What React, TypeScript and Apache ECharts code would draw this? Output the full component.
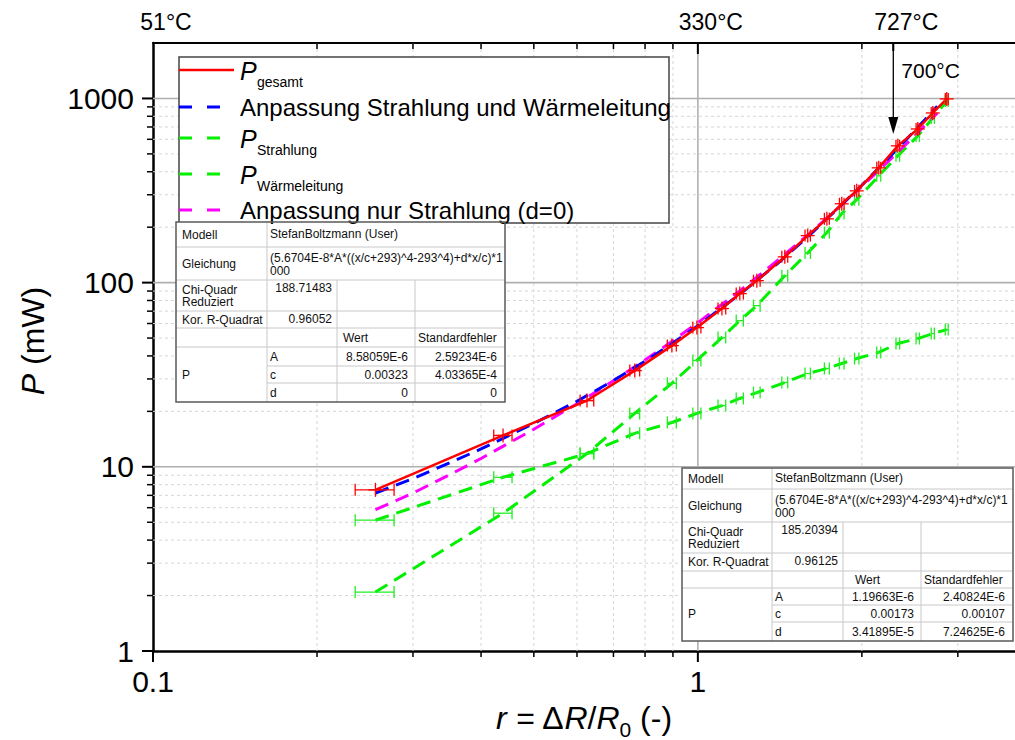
import React, { useEffect, useRef } from 'react';
import * as echarts from 'echarts';

// ---------------- data ----------------
const R_VALUES = [0.256, 0.439, 0.626, 0.766, 0.896, 0.996, 1.107, 1.194, 1.283, 1.444, 1.591, 1.725, 1.837, 1.957, 2.148, 2.328, 2.533, 2.699, 2.863];
const R_ERRORS = [0.021, 0.017, 0.018, 0.016, 0.017, 0.017, 0.018, 0.018, 0.018, 0.018, 0.018, 0.018, 0.018, 0.018, 0.018, 0.018, 0.018, 0.018, 0.018];
const P_GESAMT = [7.5, 14.8, 22.9, 33.3, 45.5, 57.0, 72.3, 87.2, 102.5, 138, 180, 222, 268, 315, 420, 553, 683, 834, 994];
const P_STRAHLUNG = [2.09, 5.6, 11.8, 19.5, 28.4, 37.8, 50.3, 62.2, 75.0, 109, 145, 187, 237, 282, 380, 488, 626, 784, 969];
const P_WAERMELEITUNG = [5.13, 8.77, 11.8, 15.2, 17.4, 19.5, 21.5, 23.5, 25.3, 28.7, 32.1, 34.2, 36.4, 38.7, 41.8, 46.7, 49.7, 52.9, 55.6];

const FIT_R = [0.256, 0.3, 0.35, 0.4, 0.5, 0.6, 0.7, 0.8, 0.9, 1.0, 1.2, 1.4, 1.6, 1.8, 2.0, 2.2, 2.4, 2.6, 2.75];
const FIT_STRAHLUNG_WAERME = [7.2, 8.64, 10.5, 12.5, 17.2, 22.7, 29.4, 37.4, 47.0, 58.3, 87.5, 127, 180, 250, 338, 450, 588, 757, 906];
const FIT_NUR_STRAHLUNG = [5.85, 7.2, 9.04, 11.1, 16.0, 22.0, 29.3, 38.0, 48.4, 60.6, 91.3, 132, 184, 251, 333, 435, 557, 704, 831];

const X_MIN = 0.1;
const X_MAX = 3.82;
const Y_MIN = 1;
const Y_MAX = 2000;
const X_MAJOR = [0.1, 1];
const X_MINOR = [0.2, 0.3, 0.4, 0.5, 0.6, 0.7, 0.8, 0.9, 2, 3];
const Y_MAJOR = [1, 10, 100, 1000];
const Y_MINOR = [2, 3, 4, 5, 6, 7, 8, 9, 20, 30, 40, 50, 60, 70, 80, 90, 200, 300, 400, 500, 600, 700, 800, 900];

const TOP_TICKS = [0.1, 1, 2.284];
const TOP_LABELS = ['51°C', '330°C', '727°C'];
const ARROW_LABEL = '700°C';

const LEGEND_MAIN = ['P', '', 'P', 'P', ''];
const LEGEND_SUB = ['gesamt', '', 'Strahlung', 'Wärmeleitung', ''];
const LEGEND_TEXT = ['', 'Anpassung Strahlung und Wärmeleitung', '', '', 'Anpassung nur Strahlung (d=0)'];
const LEGEND_COLORS = ['#ff0000', '#0000ff', '#00f000', '#00f000', '#ff00ff'];
const LEGEND_DASHED = [false, true, true, true, true];

const TABLE_HEAD = ['Modell', 'Gleichung', 'Chi-Quadr', 'Reduziert', 'Kor. R-Quadrat'];
const TABLE_MODEL = 'StefanBoltzmann (User)';
const TABLE_EQUATION = ['(5.6704E-8*A*((x/c+293)^4-293^4)+d*x/c)*1', '000'];
const TABLE_COLUMNS = ['Wert', 'Standardfehler'];
const TABLE_PARAM_GROUP = 'P';
const PARAM_NAMES = ['A', 'c', 'd'];
const FIT1_CHI = '188.71483';
const FIT1_R2 = '0.96052';
const FIT1_VALUES = ['8.58059E-6', '0.00323', '0'];
const FIT1_ERRORS = ['2.59234E-6', '4.03365E-4', '0'];
const FIT2_CHI = '185.20394';
const FIT2_R2 = '0.96125';
const FIT2_VALUES = ['1.19663E-6', '0.00173', '3.41895E-5'];
const FIT2_ERRORS = ['2.40824E-6', '0.00107', '7.24625E-6'];

// ---------------- helpers ----------------
const FONT = "'Liberation Sans', Arial, Helvetica, sans-serif";

const decadeLabel = (v: number) => {
  const l = Math.log10(v);
  return Math.abs(l - Math.round(l)) < 1e-6 ? String(+v.toPrecision(6)) : '';
};

const txt = (text: string, x: number, y: number, size: number, align: string, extra: any = {}) => ({
  type: 'text',
  x,
  y,
  z: 102,
  silent: true,
  style: {
    text,
    fontSize: size,
    fontFamily: FONT,
    fill: '#111',
    align,
    textAlign: align,
    verticalAlign: 'middle',
    textVerticalAlign: 'middle',
    ...extra,
  },
});

const hline = (x1: number, x2: number, y: number, stroke: string, w: number) => ({
  type: 'line', z: 101, silent: true, shape: { x1, y1: y, x2, y2: y }, style: { stroke, lineWidth: w },
});
const vline = (x: number, y1: number, y2: number, stroke: string, w: number) => ({
  type: 'line', z: 101, silent: true, shape: { x1: x, y1, x2: x, y2 }, style: { stroke, lineWidth: w },
});

function buildTable(cols: number[], rows: number[], chi: string, r2: string, vals: string[], errs: string[], wertOff: number) {
  const g: any[] = [];
  const inner = '#c8c8c8';
  g.push({ type: 'rect', z: 100, silent: true, shape: { x: cols[0], y: rows[0], width: cols[4] - cols[0], height: rows[8] - rows[0] }, style: { fill: '#fff', stroke: 'none' } });
  for (let i = 1; i <= 5; i++) g.push(hline(cols[0], cols[4], rows[i], inner, 1));
  for (let i = 6; i <= 7; i++) g.push(hline(cols[1], cols[4], rows[i], inner, 1));
  g.push(vline(cols[1], rows[0], rows[8], inner, 1));
  g.push(vline(cols[2], rows[2], rows[8], inner, 1));
  g.push(vline(cols[3], rows[2], rows[8], inner, 1));
  g.push({ type: 'rect', z: 103, silent: true, shape: { x: cols[0], y: rows[0], width: cols[4] - cols[0], height: rows[8] - rows[0] }, style: { fill: 'none', stroke: '#5a5a5a', lineWidth: 1.5 } });
  const lx = cols[0] + 6;
  const mid = (i: number) => (rows[i] + rows[i + 1]) / 2;
  g.push(txt(TABLE_HEAD[0], lx, mid(0), 12, 'left'));
  g.push(txt(TABLE_HEAD[1], lx, mid(1), 12, 'left'));
  g.push(txt(TABLE_HEAD[2], lx, rows[2] + 10, 12, 'left'));
  g.push(txt(TABLE_HEAD[3], lx, rows[2] + 22, 12, 'left'));
  g.push(txt(TABLE_HEAD[4], lx, mid(3), 12, 'left'));
  g.push(txt(TABLE_PARAM_GROUP, lx, mid(6), 12, 'left'));
  g.push(txt(TABLE_MODEL, cols[1] + 3, mid(0) - 1, 12, 'left'));
  g.push(txt(TABLE_EQUATION[0], cols[1] + 3, mid(1) - 6, 12, 'left'));
  g.push(txt(TABLE_EQUATION[1], cols[1] + 3, mid(1) + 7, 12, 'left'));
  g.push(txt(chi, cols[2] - 5, rows[2] + 8, 12, 'right'));
  g.push(txt(r2, cols[2] - 5, mid(3) - 1, 12, 'right'));
  g.push(txt(TABLE_COLUMNS[0], cols[2] + wertOff, mid(4), 12, 'left'));
  g.push(txt(TABLE_COLUMNS[1], cols[3] + 3, mid(4), 12, 'left'));
  for (let k = 0; k < 3; k++) {
    g.push(txt(PARAM_NAMES[k], cols[1] + 3, mid(5 + k), 12, 'left'));
    g.push(txt(vals[k], cols[3] - 7, mid(5 + k), 12, 'right'));
    g.push(txt(errs[k], cols[4] - 8, mid(5 + k), 12, 'right'));
  }
  return g;
}

function buildLegend() {
  const g: any[] = [];
  const box = { x: 179, y: 57, w: 490, h: 166 };
  g.push({ type: 'rect', z: 100, silent: true, shape: { x: box.x, y: box.y, width: box.w, height: box.h }, style: { fill: '#fff', stroke: '#444', lineWidth: 1.5 } });
  const rowY = [70, 107, 138, 174, 210];
  for (let i = 0; i < 5; i++) {
    const y = rowY[i];
    if (LEGEND_DASHED[i]) {
      g.push({ type: 'line', z: 101, silent: true, shape: { x1: 179, y1: y, x2: 220, y2: y }, style: { stroke: LEGEND_COLORS[i], lineWidth: 3, lineDash: [13, 15] } });
    } else {
      g.push({ type: 'line', z: 101, silent: true, shape: { x1: 179, y1: y, x2: 234, y2: y }, style: { stroke: LEGEND_COLORS[i], lineWidth: 2.5 } });
    }
    if (LEGEND_MAIN[i]) {
      g.push(txt(LEGEND_MAIN[i], 240, y + 1, 25, 'left', { fontStyle: 'italic', fill: '#000' }));
      g.push(txt(LEGEND_SUB[i], 257, y + 12, 14, 'left', { fill: '#000' }));
    } else {
      g.push(txt(LEGEND_TEXT[i], 240, y, 24, 'left', { fill: '#000' }));
    }
  }
  return g;
}

const zip = (xs: number[], ys: number[]) => xs.map((x, i) => [x, ys[i]]);

const makeErrRender = (color: string, plus: boolean) => (params: any, api: any) => {
  const x = api.value(0);
  const y = api.value(1);
  const e = api.value(2);
  const c = api.coord([x, y]);
  const l = api.coord([x - e, y]);
  const r = api.coord([x + e, y]);
  const st = { stroke: color, lineWidth: 1.3 };
  const cap = 6;
  const children: any[] = [
    { type: 'line', shape: { x1: l[0], y1: c[1], x2: r[0], y2: c[1] }, style: st },
    { type: 'line', shape: { x1: l[0], y1: c[1] - cap, x2: l[0], y2: c[1] + cap }, style: st },
    { type: 'line', shape: { x1: r[0], y1: c[1] - cap, x2: r[0], y2: c[1] + cap }, style: st },
  ];
  if (plus) {
    children.push({ type: 'line', shape: { x1: c[0], y1: c[1] - 7, x2: c[0], y2: c[1] + 7 }, style: st });
    children.push({ type: 'line', shape: { x1: c[0] - 7, y1: c[1], x2: c[0] + 7, y2: c[1] }, style: st });
  }
  return { type: 'group', children };
};

const renderXTick = (params: any, api: any) => {
  const v = api.value(0);
  const major = api.value(2) === 1;
  const pb = api.coord([v, Y_MIN]);
  const pt = api.coord([v, Y_MAX]);
  const len = major ? 11 : 6;
  const children: any[] = [];
  if (v !== X_MIN) {
    children.push({
      type: 'line', shape: { x1: pt[0], y1: pt[1], x2: pb[0], y2: pb[1] },
      style: major ? { stroke: '#b0b0b0', lineWidth: 1.6 } : { stroke: '#d6d6d6', lineWidth: 1, lineDash: [3, 3] },
    });
  }
  children.push({ type: 'line', shape: { x1: pb[0], y1: pb[1], x2: pb[0], y2: pb[1] + len }, style: { stroke: '#000', lineWidth: major ? 2 : 1.5 } });
  if (v !== X_MIN) {
    children.push({ type: 'line', shape: { x1: pt[0], y1: pt[1], x2: pt[0], y2: pt[1] + len }, style: { stroke: '#000', lineWidth: major ? 2 : 1.5 } });
  }
  return { type: 'group', children };
};

const renderYTick = (params: any, api: any) => {
  const v = api.value(1);
  const major = api.value(2) === 1;
  const pl = api.coord([X_MIN, v]);
  const pr = api.coord([X_MAX, v]);
  const len = major ? 11 : 6;
  const children: any[] = [];
  if (v !== Y_MIN) {
    children.push({
      type: 'line', shape: { x1: pl[0], y1: pl[1], x2: pr[0], y2: pr[1] },
      style: major ? { stroke: '#b0b0b0', lineWidth: 1.6 } : { stroke: '#d6d6d6', lineWidth: 1, lineDash: [3, 3] },
    });
  }
  children.push({ type: 'line', shape: { x1: pl[0] - len, y1: pl[1], x2: pl[0], y2: pl[1] }, style: { stroke: '#000', lineWidth: major ? 2 : 1.5 } });
  return { type: 'group', children };
};

const renderTop = (params: any, api: any) => {
  const v = api.value(0);
  const p = api.coord([v, Y_MAX]);
  const i = params.dataIndex;
  const children: any[] = [
    {
      type: 'text', x: p[0] + 13, y: p[1] - 21,
      style: { text: TOP_LABELS[i], fontSize: 23, fontFamily: FONT, fill: '#000', align: 'center', textAlign: 'center', verticalAlign: 'middle', textVerticalAlign: 'middle' },
    },
  ];
  if (i === 2) {
    children.push({ type: 'line', shape: { x1: p[0], y1: p[1], x2: p[0], y2: p[1] + 8 }, style: { stroke: '#000', lineWidth: 2 } });
    children.push({ type: 'line', shape: { x1: p[0], y1: p[1], x2: p[0], y2: p[1] + 78 }, style: { stroke: '#000', lineWidth: 1.3 } });
    children.push({ type: 'polygon', shape: { points: [[p[0] - 5, p[1] + 74], [p[0] + 5, p[1] + 74], [p[0], p[1] + 91]] }, style: { fill: '#000' } });
    children.push({
      type: 'text', x: p[0] + 8, y: p[1] + 27,
      style: { text: ARROW_LABEL, fontSize: 21, fontFamily: FONT, fill: '#000', align: 'left', textAlign: 'left', verticalAlign: 'middle', textVerticalAlign: 'middle' },
    });
  }
  return { type: 'group', children };
};

export default function App() {
  const ref = useRef<HTMLDivElement>(null);
  useEffect(() => {
    document.body.style.margin = '0';
    if (!ref.current) return;
    const chart = echarts.init(ref.current, undefined, { renderer: 'svg' });

    const xTickData = [...X_MAJOR.map((v) => [v, Y_MIN, 1]), ...X_MINOR.map((v) => [v, Y_MIN, 0])];
    const yTickData = [...Y_MAJOR.map((v) => [X_MIN, v, 1]), ...Y_MINOR.map((v) => [X_MIN, v, 0])];

    const lineSeries = (name: string, xs: number[], ys: number[], color: string, dashed: boolean, z: number, width: number) => ({
      type: 'line',
      name,
      xAxisIndex: 0,
      yAxisIndex: 0,
      data: zip(xs, ys),
      symbol: 'none',
      showSymbol: false,
      silent: true,
      z,
      lineStyle: { color, width, type: dashed ? [14, 8] : 'solid' },
    });

    const errSeries = (name: string, ys: number[], color: string, plus: boolean) => ({
      type: 'custom',
      name,
      xAxisIndex: 0,
      yAxisIndex: 0,
      z: 8,
      silent: true,
      data: R_VALUES.map((r, i) => [r, ys[i], R_ERRORS[i]]),
      encode: { x: 0, y: 1 },
      renderItem: makeErrRender(color, plus),
    });

    const option: any = {
      animation: false,
      backgroundColor: '#fff',
      grid: { left: 153, right: 0, top: 43, bottom: 89, containLabel: false, outerBoundsMode: 'none' },
      xAxis: [
        {
          type: 'log',
          logBase: 10,
          min: X_MIN,
          max: X_MAX,
          position: 'bottom',
          axisLine: { show: true, onZero: false, lineStyle: { color: '#000', width: 2.5 } },
          axisTick: { show: false },
          splitLine: { show: false },
          minorTick: { show: false },
          minorSplitLine: { show: false },
          axisLabel: { fontSize: 30, color: '#000', fontFamily: FONT, margin: 15, formatter: decadeLabel },
          name: '{i|r} = Δ{i|R}/{i|R}{s|0} (-)',
          nameLocation: 'middle',
          nameGap: 44,
          nameTextStyle: {
            fontSize: 32,
            fontFamily: FONT,
            color: '#000',
            rich: {
              i: { fontStyle: 'italic', fontSize: 32, fontFamily: FONT, color: '#000' },
              s: { fontSize: 21, fontFamily: FONT, color: '#000', padding: [24, 0, 0, 0] },
            },
          },
        },
        {
          type: 'log',
          logBase: 10,
          min: X_MIN,
          max: X_MAX,
          position: 'top',
          axisLine: { show: true, onZero: false, lineStyle: { color: '#000', width: 2 } },
          axisTick: { show: false },
          axisLabel: { show: false },
          splitLine: { show: false },
        },
      ],
      yAxis: {
        type: 'log',
        logBase: 10,
        min: Y_MIN,
        max: Y_MAX,
        axisLine: { show: true, onZero: false, lineStyle: { color: '#000', width: 2.5 } },
        axisTick: { show: false },
        splitLine: { show: false },
        minorTick: { show: false },
        minorSplitLine: { show: false },
        axisLabel: { fontSize: 30, color: '#000', fontFamily: FONT, margin: 19, formatter: decadeLabel },
        name: '{i|P} (mW)',
        nameLocation: 'middle',
        nameGap: 104,
        nameRotate: 90,
        nameTextStyle: {
          fontSize: 32,
          fontFamily: FONT,
          color: '#000',
          padding: [0, 0, 0, 12],
          rich: { i: { fontStyle: 'italic', fontSize: 32, fontFamily: FONT, color: '#000' } },
        },
      },
      series: [
        { type: 'custom', name: 'xgrid', xAxisIndex: 0, yAxisIndex: 0, z: 1, silent: true, data: xTickData, encode: { x: 0, y: 1 }, renderItem: renderXTick },
        { type: 'custom', name: 'ygrid', xAxisIndex: 0, yAxisIndex: 0, z: 1, silent: true, data: yTickData, encode: { x: 0, y: 1 }, renderItem: renderYTick },
        lineSeries('P Wärmeleitung', R_VALUES, P_WAERMELEITUNG, '#00f000', true, 3, 3),
        lineSeries('P Strahlung', R_VALUES, P_STRAHLUNG, '#00f000', true, 3, 3),
        lineSeries('Anpassung nur Strahlung (d=0)', FIT_R, FIT_NUR_STRAHLUNG, '#ff00ff', true, 4, 3),
        lineSeries('Anpassung Strahlung und Wärmeleitung', FIT_R, FIT_STRAHLUNG_WAERME, '#0000ff', true, 5, 3),
        lineSeries('P gesamt', R_VALUES, P_GESAMT, '#ff0000', false, 6, 2.5),
        errSeries('err Wärmeleitung', P_WAERMELEITUNG, '#22ee22', false),
        errSeries('err Strahlung', P_STRAHLUNG, '#22ee22', false),
        errSeries('err gesamt', P_GESAMT, '#ff0000', true),
        { type: 'custom', name: 'top', xAxisIndex: 0, yAxisIndex: 0, z: 9, silent: true, data: TOP_TICKS.map((v) => [v, Y_MAX]), encode: { x: 0, y: 1 }, renderItem: renderTop },
      ],
      graphic: [
        ...buildLegend(),
        ...buildTable([176, 267, 337, 415, 505], [222, 247, 280, 311, 328, 347, 366, 383, 402], FIT1_CHI, FIT1_R2, FIT1_VALUES, FIT1_ERRORS, 6),
        ...buildTable([682, 772, 843, 921, 1013], [468, 489, 522, 553, 571, 588, 605, 622, 641], FIT2_CHI, FIT2_R2, FIT2_VALUES, FIT2_ERRORS, 12),
      ],
    };
    chart.setOption(option);
    return () => chart.dispose();
  }, []);
  return <div ref={ref} style={{ width: 1015, height: 740 }} />;
}
